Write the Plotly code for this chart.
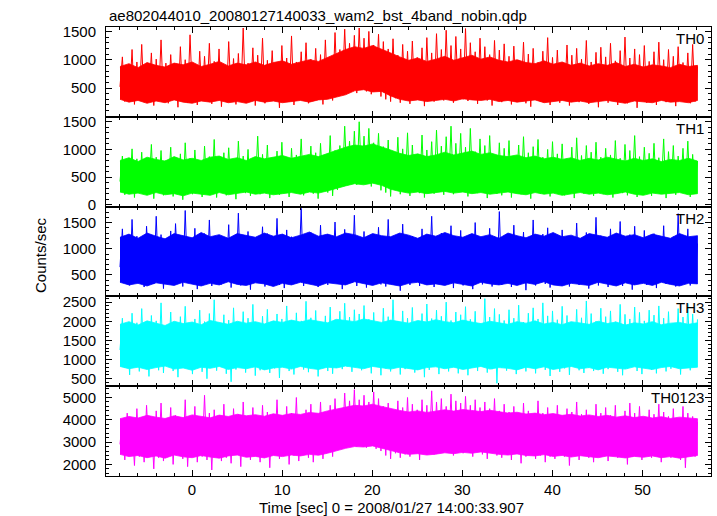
import numpy as np
import plotly.graph_objects as go
from plotly.subplots import make_subplots

# ---- data (counts/sec) ----
t_start, t_end = -8.0, 56.1

# individual bins (spiky excursions)
th0 = [
    520, 1050, 260, 880, 340, 1180, 210, 960, 300, 1270, 250, 900, 380, 1120, 190, 1010, 310, 1350, 270, 940,
    230, 1090, 350, 860, 160, 1230, 290, 1000, 240, 1440, 330, 910, 200, 1150, 280, 1060, 360, 1290, 220, 970,
    310, 1190, 170, 890, 260, 1320, 340, 1020, 210, 1110, 290, 1560, 250, 940, 370, 1210, 190, 1080, 300, 1380,
    230, 990, 350, 1160, 280, 870, 150, 1250, 320, 1030, 260, 1420, 200, 960, 340, 1140, 270, 1300, 230, 1010,
    360, 1200, 290, 1090, 210, 1350, 330, 1020, 280, 1480, 390, 1180, 420, 1540, 460, 1290, 500, 1430, 410, 1560,
    470, 1380, 440, 1500, 390, 1260, 480, 1450, 350, 1320, 300, 1190, 260, 1370, 320, 1080, 240, 1270, 310, 1150,
    220, 1330, 290, 1040, 350, 1210, 180, 1390, 300, 1120, 260, 1460, 340, 1180, 280, 1520, 330, 1250, 240, 1410,
    360, 1190, 300, 1550, 270, 1300, 350, 1140, 220, 1380, 310, 1230, 280, 1090, 190, 1340, 300, 1170, 250, 1280,
    330, 1060, 210, 1240, 290, 990, 350, 1310, 230, 1100, 170, 1200, 300, 950, 260, 1150, 320, 1390, 200, 1040,
    280, 1170, 240, 930, 330, 1260, 190, 1080, 300, 1200, 250, 1010, 360, 1340, 220, 960, 290, 1130, 160, 1220,
    300, 1050, 240, 1290, 330, 980, 200, 1160, 270, 1400, 230, 1030, 310, 1190, 150, 1090, 280, 1250, 240, 970,
    340, 1140, 200, 1310, 290, 1000, 250, 1180, 320, 1060, 180, 1230, 270, 950, 310, 1120, 230, 1270, 260, 880,
]

th1 = [
    420, 880, 180, 760, 290, 1010, 130, 830, 240, 950, 200, 720, 310, 1090, 110, 860, 260, 980, 170, 800,
    300, 1040, 150, 770, 230, 920, 90, 1120, 270, 840, 190, 990, 320, 750, 140, 1060, 250, 870, 200, 1180,
    130, 810, 280, 940, 170, 1030, 240, 780, 100, 1150, 310, 880, 210, 1000, 160, 830, 290, 1240, 190, 910,
    250, 1080, 120, 850, 300, 970, 180, 1130, 260, 790, 140, 1020, 230, 900, 330, 1190, 170, 860, 280, 1060,
    200, 940, 110, 1110, 290, 830, 220, 1250, 160, 980, 270, 1070, 340, 1420, 380, 1150, 410, 1330, 360, 1500,
    420, 1240, 390, 1380, 330, 1120, 400, 1290, 260, 1050, 220, 1170, 150, 940, 280, 1220, 190, 1010, 240, 1300,
    160, 1080, 290, 870, 210, 1260, 130, 990, 270, 1140, 200, 1350, 310, 1060, 180, 1230, 250, 1420, 190, 1110,
    280, 1290, 230, 1040, 150, 1380, 300, 960, 210, 1190, 260, 1070, 120, 1250, 290, 900, 200, 1120, 170, 1020,
    250, 1160, 130, 880, 300, 1080, 190, 1230, 240, 940, 110, 1050, 280, 1180, 200, 860, 260, 1000, 150, 1140,
    230, 920, 290, 1100, 170, 830, 250, 1040, 120, 1210, 270, 890, 200, 1070, 310, 950, 160, 1130, 240, 860,
    190, 1020, 270, 900, 130, 1160, 250, 840, 210, 1090, 170, 980, 300, 1250, 140, 870, 230, 1040, 280, 930,
    160, 1110, 220, 850, 290, 1190, 120, 960, 250, 1070, 180, 880, 310, 1020, 200, 1150, 140, 910, 260, 790,
]

th2 = [
    650, 1380, 420, 1150, 300, 1560, 460, 1240, 350, 1090, 270, 1430, 510, 1180, 330, 1620, 390, 1270, 240, 1110,
    450, 1340, 310, 1480, 520, 1070, 280, 1730, 400, 1200, 340, 1390, 230, 1130, 470, 1290, 360, 1550, 290, 1160,
    410, 1250, 320, 1100, 490, 1460, 260, 1190, 380, 1680, 300, 1080, 430, 1330, 220, 1210, 370, 1140, 500, 1420,
    280, 1290, 350, 1050, 440, 1580, 310, 1170, 250, 1360, 410, 1230, 330, 1090, 480, 1770, 290, 1190, 360, 1310,
    420, 1120, 270, 1450, 380, 1240, 310, 1060, 460, 1510, 340, 1180, 230, 1370, 400, 1260, 350, 1640, 290, 1150,
    430, 1330, 260, 1190, 370, 1090, 500, 1410, 320, 1220, 280, 1560, 410, 1130, 340, 1280, 200, 1470, 380, 1160,
    310, 1240, 450, 1070, 290, 1380, 360, 1190, 420, 1620, 270, 1150, 390, 1300, 330, 1080, 480, 1440, 250, 1210,
    370, 1350, 300, 1110, 440, 1270, 230, 1500, 390, 1170, 320, 1060, 460, 1390, 280, 1230, 350, 1710, 310, 1140,
    400, 1260, 270, 1450, 360, 1100, 430, 1320, 210, 1180, 380, 1550, 300, 1090, 470, 1280, 330, 1400, 260, 1200,
    390, 1130, 320, 1360, 450, 1220, 280, 1060, 370, 1490, 310, 1170, 420, 1310, 240, 1140, 360, 1600, 300, 1250,
    440, 1080, 270, 1380, 350, 1190, 410, 1520, 290, 1110, 380, 1270, 220, 1430, 340, 1160, 460, 1350, 310, 1090,
    360, 1290, 250, 1170, 420, 1440, 330, 1060, 390, 1230, 280, 1670, 350, 1120, 440, 1380, 300, 1200, 370, 1100,
]

th3 = [
    1250, 2080, 780, 1850, 600, 2210, 880, 1960, 690, 2330, 820, 1900, 560, 2150, 930, 2010, 720, 2480, 650, 1880,
    850, 2240, 700, 1940, 540, 2120, 900, 2390, 760, 1870, 620, 2060, 830, 2290, 680, 1990, 500, 2200, 790, 2560,
    710, 1920, 860, 2170, 630, 2030, 420, 2350, 740, 1910, 890, 2250, 660, 2080, 800, 2440, 580, 1960, 720, 2130,
    840, 2310, 650, 1980, 770, 2190, 520, 2060, 880, 2400, 700, 1930, 610, 2220, 820, 2010, 740, 2520, 670, 2090,
    790, 2280, 560, 1950, 850, 2140, 700, 2370, 630, 2040, 910, 2260, 750, 2470, 820, 2110, 680, 2300, 870, 2190,
    720, 2410, 800, 2050, 640, 2230, 860, 1970, 590, 2340, 770, 2120, 690, 2560, 830, 2000, 610, 2270, 750, 2080,
    880, 2360, 660, 1990, 790, 2200, 540, 2450, 730, 2070, 850, 2290, 620, 2130, 770, 2500, 690, 2020, 810, 2240,
    640, 2170, 760, 2380, 590, 2050, 870, 2260, 700, 1940, 820, 2590, 660, 2110, 750, 2330, 380, 2180, 790, 2020,
    710, 2300, 840, 2080, 620, 2420, 760, 1980, 690, 2210, 880, 2350, 640, 2060, 800, 2480, 730, 2140, 570, 2270,
    820, 2040, 680, 2390, 770, 2150, 600, 1960, 860, 2310, 720, 2090, 650, 2530, 790, 2200, 700, 2000, 840, 2340,
    630, 2120, 750, 2270, 810, 1990, 680, 2440, 590, 2180, 770, 2060, 850, 2370, 700, 2230, 620, 2010, 780, 2290,
    730, 2160, 640, 2400, 800, 2080, 690, 2250, 760, 1950, 870, 2330, 610, 2110, 790, 2460, 720, 2190, 850, 2050,
]

th0123 = [
    2900, 3950, 2200, 4300, 2450, 3800, 1950, 4500, 2350, 4100, 2100, 4650, 2500, 3900, 1800, 4400, 2300, 4750, 2150, 4050,
    2400, 4550, 2000, 4200, 2550, 3850, 2250, 4900, 1900, 4150, 2450, 4600, 2100, 4000, 2350, 5100, 2200, 4300, 1750, 4450,
    2500, 4050, 2150, 4700, 2300, 3950, 2050, 4500, 2600, 4250, 1900, 4800, 2400, 4100, 2200, 4550, 2500, 3980, 2100, 4650,
    2350, 4350, 1850, 4200, 2450, 4900, 2250, 4050, 2550, 4600, 2000, 4300, 2400, 5000, 2150, 4150, 2600, 4450, 2300, 4700,
    2100, 4250, 2450, 4800, 2250, 4100, 2550, 4650, 2350, 4950, 2700, 4500, 2850, 5200, 2900, 4850, 3000, 5350, 2800, 4900,
    2950, 5100, 2750, 4800, 2850, 5250, 2700, 4950, 2600, 4600, 2400, 4750, 2250, 4400, 2500, 4850, 2300, 4550, 2450, 5000,
    2350, 4700, 2550, 4450, 2200, 4900, 2500, 4650, 2600, 5300, 2450, 4800, 2700, 4950, 2550, 4600, 2650, 5150, 2400, 4850,
    2600, 4750, 2500, 5050, 2700, 4650, 2350, 4900, 2600, 4550, 2450, 4800, 2250, 4500, 2550, 4950, 2400, 4400, 2300, 4700,
    2450, 4350, 2200, 4600, 2500, 4250, 2050, 4750, 2350, 4400, 2550, 4150, 2250, 4850, 2400, 4300, 2100, 4550, 2350, 4200,
    2250, 4650, 2500, 4100, 2350, 4500, 1950, 4350, 2400, 4800, 2200, 4250, 2550, 4450, 2300, 4150, 2100, 4700, 2450, 4300,
    2400, 4550, 2150, 4200, 2500, 4650, 2300, 4050, 2550, 4400, 2000, 4750, 2350, 4300, 2450, 4600, 2200, 4100, 2500, 4450,
    2300, 4250, 2450, 4700, 2100, 4350, 2550, 4150, 2300, 4500, 2400, 4000, 2200, 4600, 1850, 4300, 2500, 4150, 2350, 3900,
]

# dense core of each light curve (lower / upper edge, about every 1 s from -8 to 56)
th0_lo = [300, 250, 280, 230, 270, 240, 290, 250, 230, 270, 250, 280, 240, 260, 230, 280, 250, 270, 240, 260,
          280, 250, 290, 300, 340, 380, 450, 470, 430, 440, 360, 300, 270, 290, 260, 280, 300, 270, 310, 290,
          280, 300, 260, 280, 250, 270, 290, 240, 260, 280, 250, 270, 240, 260, 280, 250, 230, 270, 250, 240,
          280, 250, 260, 240, 280]
th0_hi = [880, 930, 860, 950, 900, 870, 940, 910, 960, 880, 920, 970, 890, 940, 910, 960, 900, 950, 980, 920,
          960, 1000, 970, 1040, 1100, 1180, 1230, 1200, 1250, 1190, 1120, 1050, 990, 1030, 970, 1010, 1060, 990, 1040, 1080,
          1010, 1050, 990, 960, 1000, 950, 930, 980, 920, 960, 900, 940, 890, 930, 900, 950, 880, 920, 870, 910,
          890, 860, 920, 880, 900]
th1_lo = [230, 190, 210, 170, 220, 180, 200, 160, 210, 190, 170, 220, 180, 200, 230, 190, 210, 180, 200, 220,
          190, 230, 210, 250, 290, 340, 380, 360, 390, 350, 280, 240, 210, 230, 200, 220, 240, 210, 230, 200,
          220, 190, 210, 230, 200, 180, 220, 190, 210, 170, 200, 220, 190, 210, 180, 200, 230, 190, 170, 210,
          190, 200, 220, 180, 200]
th1_hi = [800, 850, 780, 860, 820, 790, 870, 810, 840, 800, 860, 880, 820, 850, 800, 870, 830, 860, 890, 840,
          880, 910, 870, 930, 980, 1040, 1080, 1060, 1100, 1050, 990, 930, 890, 920, 870, 900, 950, 900, 930, 970,
          910, 940, 890, 870, 900, 850, 880, 830, 860, 820, 850, 800, 840, 810, 860, 820, 790, 840, 800, 830,
          780, 820, 800, 840, 790]
th2_lo = [360, 310, 340, 290, 350, 320, 300, 360, 330, 290, 340, 310, 370, 320, 300, 350, 330, 280, 340, 310,
          360, 320, 290, 350, 330, 310, 370, 340, 300, 350, 320, 290, 340, 360, 310, 330, 300, 350, 320, 290,
          360, 330, 310, 340, 300, 350, 320, 370, 310, 290, 340, 320, 300, 360, 330, 290, 350, 310, 340, 300,
          360, 320, 290, 340, 330]
th2_hi = [1220, 1280, 1200, 1300, 1240, 1190, 1290, 1250, 1210, 1310, 1230, 1270, 1200, 1290, 1260, 1220, 1300, 1240, 1280, 1210,
          1260, 1320, 1240, 1280, 1230, 1300, 1270, 1210, 1290, 1250, 1230, 1300, 1260, 1200, 1280, 1240, 1310, 1250, 1220, 1290,
          1230, 1270, 1200, 1300, 1250, 1210, 1280, 1240, 1310, 1230, 1260, 1200, 1290, 1250, 1220, 1300, 1240, 1270, 1210, 1280,
          1240, 1200, 1290, 1230, 1250]
th3_lo = [820, 760, 800, 740, 790, 830, 750, 780, 720, 800, 770, 820, 740, 790, 760, 810, 730, 780, 800, 750,
          820, 770, 740, 800, 780, 830, 790, 760, 820, 780, 750, 800, 770, 730, 790, 810, 760, 800, 740, 780,
          820, 750, 790, 770, 730, 800, 760, 810, 740, 780, 820, 760, 790, 730, 800, 770, 750, 810, 780, 740,
          790, 820, 760, 780, 800]
th3_hi = [1920, 1990, 1900, 2010, 1950, 1890, 2000, 1940, 1980, 1910, 2020, 1960, 1920, 2000, 1950, 1990, 1930, 2010, 1970, 2030,
          1980, 2040, 2000, 1960, 2050, 2010, 1990, 2060, 2020, 1970, 2030, 1990, 1950, 2020, 1980, 2040, 1990, 1960, 2030, 1980,
          1940, 2000, 1960, 1920, 1990, 1950, 2010, 1930, 1970, 1910, 1990, 1950, 1920, 2000, 1940, 1980, 1900, 1960, 1930, 1990,
          1910, 1950, 1970, 1920, 1960]
th0123_lo = [2450, 2350, 2400, 2300, 2380, 2280, 2420, 2340, 2300, 2400, 2330, 2280, 2380, 2420, 2320, 2360, 2290, 2400, 2350, 2420,
             2380, 2450, 2410, 2500, 2600, 2720, 2800, 2780, 2830, 2750, 2620, 2520, 2450, 2480, 2420, 2460, 2520, 2480, 2540, 2500,
             2560, 2490, 2450, 2420, 2470, 2400, 2380, 2440, 2360, 2400, 2330, 2390, 2350, 2300, 2380, 2340, 2290, 2360, 2320, 2380,
             2300, 2350, 2280, 2340, 2400]
th0123_hi = [4050, 4150, 4080, 4200, 4120, 4060, 4180, 4100, 4220, 4140, 4090, 4210, 4150, 4250, 4180, 4230, 4160, 4270, 4200, 4280,
             4240, 4330, 4290, 4400, 4480, 4580, 4650, 4620, 4700, 4600, 4500, 4420, 4350, 4400, 4330, 4380, 4450, 4390, 4460, 4420,
             4370, 4430, 4350, 4300, 4340, 4260, 4300, 4230, 4280, 4200, 4250, 4170, 4220, 4150, 4200, 4120, 4180, 4100, 4160, 4080,
             4140, 4060, 4120, 4090, 4050]

series_names = ["TH0", "TH1", "TH2", "TH3", "TH0123"]
series_values = [th0, th1, th2, th3, th0123]
core_lo = [th0_lo, th1_lo, th2_lo, th3_lo, th0123_lo]
core_hi = [th0_hi, th1_hi, th2_hi, th3_hi, th0123_hi]
colors = ["#ff0000", "#00ff00", "#0000ff", "#00ffff", "#ff00ff"]
y_ranges = [[-9, 1578], [-34, 1590], [91, 1805], [304, 2649], [1480, 5507]]
y_ticks = [[500, 1000, 1500], [0, 500, 1000, 1500], [500, 1000, 1500],
           [500, 1000, 1500, 2000, 2500], [2000, 3000, 4000, 5000]]
y_minor = [100, 100, 100, 100, 200]
x_ticks = [0, 10, 20, 30, 40, 50]

title_text = "ae802044010_20080127140033_wam2_bst_4band_nobin.qdp"
x_title = "Time [sec] 0 = 2008/01/27 14:00:33.907"
y_title = "Counts/sec"

FONT = "Liberation Sans, Arial, Helvetica, sans-serif"

fig = make_subplots(rows=5, cols=1, shared_xaxes=True, vertical_spacing=0)

for k, (name, vals, col) in enumerate(zip(series_names, series_values, colors)):
    lo, hi = list(core_lo[k]), list(core_hi[k])
    t_hi = list(np.linspace(t_start, t_end, len(hi)))
    t_lo = list(np.linspace(t_start, t_end, len(lo)))
    fig.add_trace(go.Scatter(x=t_hi + t_lo[::-1], y=hi + lo[::-1], mode="lines",
                             fill="toself", fillcolor=col, line=dict(color=col, width=0.8),
                             hoverinfo="skip", showlegend=False),
                  row=k + 1, col=1)
    tt = np.linspace(t_start, t_end, len(vals))
    fig.add_trace(go.Scatter(x=tt, y=vals, mode="lines", name=name,
                             line=dict(color=col, width=1.0),
                             hoverinfo="skip", showlegend=False),
                  row=k + 1, col=1)

W, H = 717, 516
ml, mr, mt, mb = 106, 6, 27, 40
pw, ph = W - ml - mr, H - mt - mb

fig.update_layout(
    width=W, height=H,
    margin=dict(l=ml, r=mr, t=mt, b=mb, pad=0),
    paper_bgcolor="white", plot_bgcolor="white",
    font=dict(family=FONT, size=15, color="black"),
    showlegend=False,
)

fig.update_xaxes(
    range=[-9.55, 57.6], tickvals=x_ticks, ticktext=[str(v) for v in x_ticks],
    ticks="inside", ticklen=6, tickwidth=1, tickcolor="black",
    showline=True, linecolor="black", linewidth=1, mirror="ticks",
    showgrid=False, zeroline=False,
    minor=dict(dtick=2, tick0=0, ticks="inside", ticklen=3, tickcolor="black", showgrid=False),
    ticklabelstandoff=0,
)

for k in range(5):
    fig.update_yaxes(
        range=y_ranges[k], tickvals=y_ticks[k], ticktext=[str(v) for v in y_ticks[k]],
        ticks="inside", ticklen=6, tickwidth=1, tickcolor="black",
        showline=True, linecolor="black", linewidth=1, mirror="ticks",
        showgrid=False, zeroline=False,
        minor=dict(dtick=y_minor[k], tick0=0, ticks="inside", ticklen=3, tickcolor="black", showgrid=False),
        ticklabelstandoff=6,
        row=k + 1, col=1,
    )


def py(ypx):
    return (H - mb - ypx) / ph


def px(xpx):
    return (xpx - ml) / pw


annotations = []
panel_tops = [27, 116.8, 206.6, 296.4, 386.2]
for name, top in zip(series_names, panel_tops):
    annotations.append(dict(text=name, xref="paper", yref="paper", x=px(706), y=py(top + 11.5),
                            xanchor="right", yanchor="middle", showarrow=False,
                            font=dict(family=FONT, size=15, color="black")))
annotations.append(dict(text=title_text, xref="paper", yref="paper", x=px(107), y=py(15),
                        xanchor="left", yanchor="middle", showarrow=False,
                        font=dict(family=FONT, size=15, color="black")))
annotations.append(dict(text=x_title, xref="paper", yref="paper", x=px(391), y=py(507.5),
                        xanchor="center", yanchor="middle", showarrow=False,
                        font=dict(family=FONT, size=15, color="black")))
annotations.append(dict(text=y_title, xref="paper", yref="paper", x=px(40), y=py(255),
                        xanchor="center", yanchor="middle", textangle=-90, showarrow=False,
                        font=dict(family=FONT, size=15, color="black")))
fig.update_layout(annotations=annotations)

fig.write_html("out.html", config={"displayModeBar": False},
               post_script="document.body.style.margin='0';document.body.style.padding='0';")
